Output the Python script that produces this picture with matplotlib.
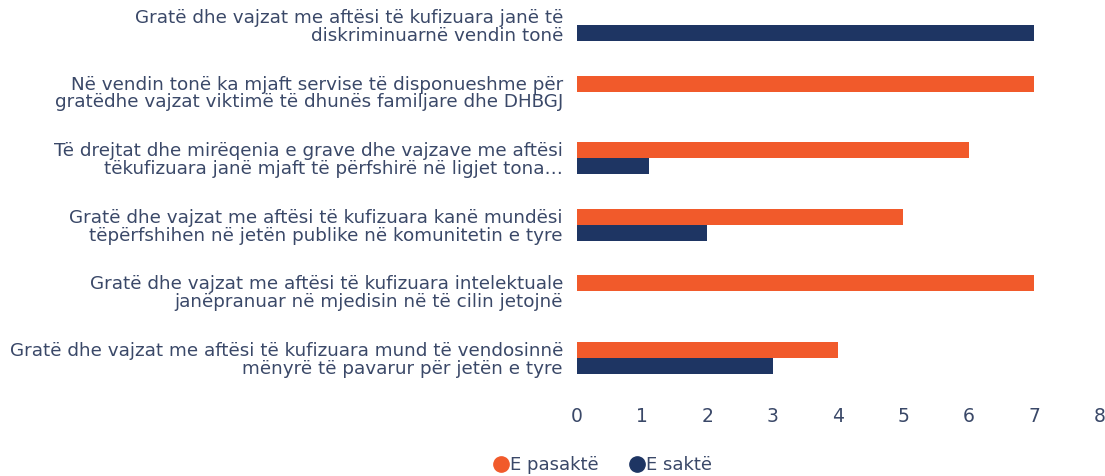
import numpy as np
import matplotlib.pyplot as plt

categories = [
    "Gratë dhe vajzat me aftësi të kufizuara janë të\ndiskriminuarnë vendin tonë",
    "Në vendin tonë ka mjaft servise të disponueshme për\ngratëdhe vajzat viktimë të dhunës familjare dhe DHBGJ",
    "Të drejtat dhe mirëqenia e grave dhe vajzave me aftësi\ntëkufizuara janë mjaft të përfshirë në ligjet tona…",
    "Gratë dhe vajzat me aftësi të kufizuara kanë mundësi\ntëpërfshihen në jetën publike në komunitetin e tyre",
    "Gratë dhe vajzat me aftësi të kufizuara intelektuale\njanëpranuar në mjedisin në të cilin jetojnë",
    "Gratë dhe vajzat me aftësi të kufizuara mund të vendosinnë\nmënyrë të pavarur për jetën e tyre",
]
e_pasakte = [0, 7, 6, 5, 7, 4]
e_sakte = [7, 0, 1.1, 2, 0, 3]
series_names = ["E pasaktë", "E saktë"]
xticks = [0, 1, 2, 3, 4, 5, 6, 7, 8]

ORANGE = "#f15a2b"
NAVY = "#1e3563"
TEXT = "#3a4868"

plt.rcParams['font.family'] = ['DejaVu Sans']

fig = plt.figure(figsize=(11.05, 4.76), dpi=100)
ax = fig.add_axes([0.522, 1 - 395 / 476, 0.995 - 0.522, 395 / 476])

y = np.arange(len(categories))
h = 0.24
ax.barh(y - h / 2, e_pasakte, height=h, color=ORANGE, label=series_names[0])
ax.barh(y + h / 2, e_sakte, height=h, color=NAVY, label=series_names[1])

ax.set_ylim(5.555, -0.375)
ax.set_xlim(0, 8)
ax.set_xticks(xticks)
ax.set_xticklabels([str(t) for t in xticks])
ax.set_yticks(y)
ax.set_yticklabels(categories, ha='right', linespacing=0.98)
ax.tick_params(axis='y', length=0, labelsize=13.2, labelcolor=TEXT, pad=10)
ax.tick_params(axis='x', length=0, labelsize=13.5, labelcolor=TEXT, pad=9)
for s in ax.spines.values():
    s.set_visible(False)

handles = [
    plt.Line2D([], [], marker='o', linestyle='', markersize=11, color=ORANGE),
    plt.Line2D([], [], marker='o', linestyle='', markersize=11, color=NAVY),
]
fig.legend(handles, series_names, loc='center', bbox_to_anchor=(0.545, 0.023),
           ncol=2, frameon=False, fontsize=13, labelcolor=TEXT,
           handletextpad=0.0, columnspacing=1.6, handlelength=1.0)

fig.savefig("out.png", dpi=100)
